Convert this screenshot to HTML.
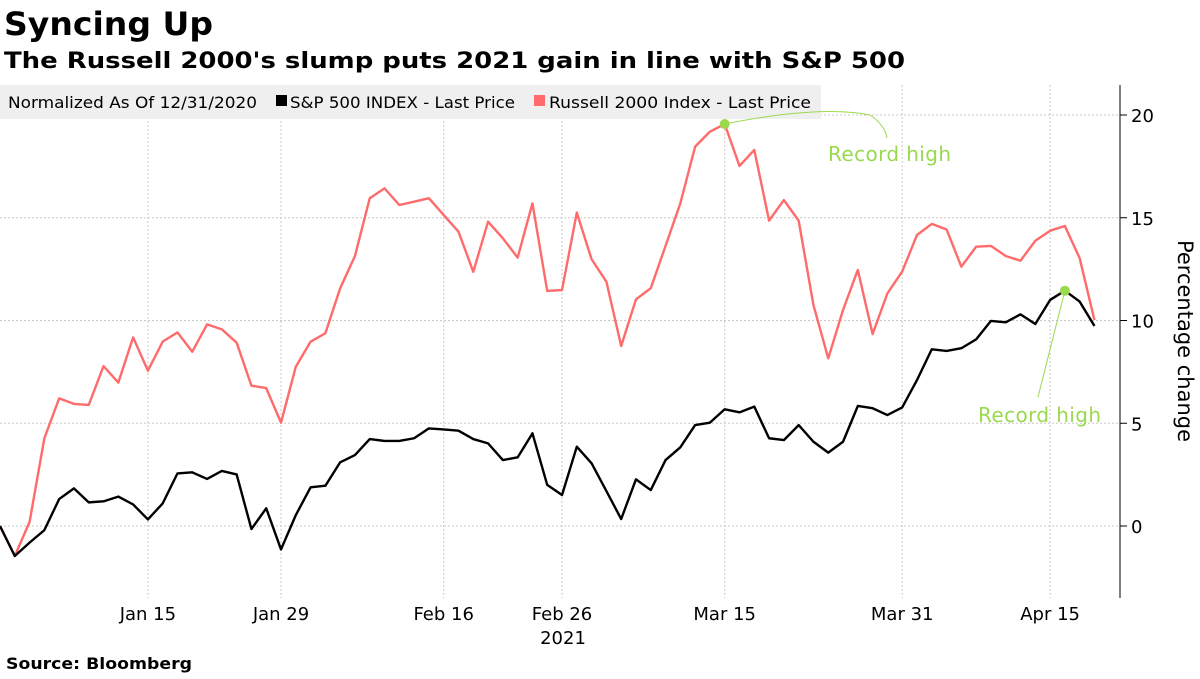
<!DOCTYPE html>
<html><head><meta charset="utf-8"><style>
body{margin:0;background:#fff;width:1200px;height:675px;overflow:hidden;font-family:"DejaVu Sans","Liberation Sans",sans-serif;}
svg text{font-family:"DejaVu Sans","Liberation Sans",sans-serif;}
</style></head><body>
<svg width="1200" height="675">
<text x="4" y="35" font-size="32" font-weight="bold" fill="#000" textLength="209" lengthAdjust="spacingAndGlyphs">Syncing Up</text>
<text x="4" y="68" font-size="22" font-weight="bold" fill="#000" textLength="901" lengthAdjust="spacingAndGlyphs">The Russell 2000's slump puts 2021 gain in line with S&amp;P 500</text>
<g id="grid"></g>
<rect x="0" y="85" width="821" height="34" fill="#efefef"/>
<text x="8" y="108" font-size="16" fill="#000" textLength="249" lengthAdjust="spacingAndGlyphs">Normalized As Of 12/31/2020</text>
<rect x="276" y="95" width="11" height="11" fill="#000"/>
<text x="290" y="108" font-size="16" fill="#000" textLength="225" lengthAdjust="spacingAndGlyphs">S&amp;P 500 INDEX - Last Price</text>
<rect x="534" y="95" width="11" height="11" fill="#ff6b6b"/>
<text x="549" y="108" font-size="16" fill="#000" textLength="262" lengthAdjust="spacingAndGlyphs">Russell 2000 Index - Last Price</text>
<g id="series"></g>
<line x1="1120" y1="85" x2="1120" y2="598" stroke="#000" stroke-width="1"/>
<g id="yaxis"></g>
<text transform="translate(1178,341) rotate(90)" text-anchor="middle" font-size="21" fill="#000">Percentage change</text>
<g id="xaxis"></g>
<text x="563" y="644" text-anchor="middle" font-size="18" fill="#000">2021</text>
<text x="6" y="669" font-size="16" font-weight="bold" fill="#000" textLength="186" lengthAdjust="spacingAndGlyphs">Source: Bloomberg</text>
<g id="annot"></g>
</svg>
<script>
const russell=[0,-1.46,0.2,4.27,6.21,5.94,5.89,7.78,6.98,9.18,7.56,8.97,9.42,8.48,9.81,9.57,8.92,6.83,6.71,5.03,7.75,8.97,9.38,11.57,13.14,15.95,16.43,15.62,15.78,15.95,15.13,14.32,12.37,14.81,14.0,13.06,15.7,11.44,11.48,15.25,12.98,11.89,8.76,11.03,11.57,13.63,15.7,18.46,19.19,19.56,17.52,18.3,14.86,15.86,14.86,10.75,8.16,10.51,12.46,9.34,11.32,12.38,14.16,14.7,14.43,12.62,13.59,13.63,13.14,12.91,13.88,14.37,14.6,13.03,10.02];
const sp500=[0,-1.46,-0.81,-0.2,1.31,1.83,1.15,1.2,1.43,1.05,0.32,1.1,2.56,2.61,2.29,2.68,2.51,-0.15,0.86,-1.14,0.53,1.88,1.96,3.1,3.45,4.23,4.14,4.14,4.27,4.75,4.7,4.64,4.23,4.02,3.21,3.34,4.51,2.0,1.51,3.86,3.05,1.7,0.34,2.27,1.75,3.21,3.83,4.91,5.03,5.68,5.53,5.81,4.27,4.18,4.91,4.1,3.57,4.1,5.84,5.73,5.4,5.77,7.1,8.6,8.52,8.65,9.08,9.98,9.91,10.3,9.83,11.0,11.45,10.92,9.73];
const xTickLabels=["Jan 15","Jan 29","Feb 16","Feb 26","Mar 15","Mar 31","Apr 15"];
const xTickIndex=[10,19,30,38,49,61,71];
const yTicks=[0,5,10,15,20];
const ns="http://www.w3.org/2000/svg";
const X=i=>i*14.79;
const Y=v=>526-20.55*v;
function mk(t,a,p){const e=document.createElementNS(ns,t);for(const k in a)e.setAttribute(k,a[k]);p.appendChild(e);return e;}
const grid=document.getElementById('grid'),ya=document.getElementById('yaxis'),xa=document.getElementById('xaxis'),se=document.getElementById('series'),an=document.getElementById('annot');
yTicks.forEach(v=>{
 const g=mk('line',{x1:0,x2:1120,y1:Y(v),y2:Y(v),stroke:'#c8c8c8','stroke-dasharray':'2,2'},grid);
 
 
 const tk=mk('line',{x1:1120,x2:1127,y1:Y(v),y2:Y(v),stroke:'#000'},ya);
 
 
 const t=mk('text',{x:1131,y:Y(v)+7,'font-size':18,fill:'#000'},ya);t.textContent=v;
 
 
});
xTickIndex.forEach((ix,k)=>{
 const g=mk('line',{x1:X(ix),x2:X(ix),y1:85,y2:598,stroke:'#c8c8c8','stroke-dasharray':'2,2'},grid);
 
 
 const t=mk('text',{x:X(ix),y:620,'text-anchor':'middle','font-size':18,fill:'#000'},xa);t.textContent=xTickLabels[k];
 
 
});
function line(d,c,name){
 const p=mk('polyline',{points:d.map((v,i)=>X(i)+','+Y(v)).join(' '),fill:'none',stroke:c,'stroke-width':2.4,'stroke-linejoin':'round'},se);
 
 
}
line(russell,'#ff6b6b','russell-2000-line');
line(sp500,'#000','sp500-line');
const ri=russell.indexOf(Math.max(...russell)), si=sp500.indexOf(Math.max(...sp500));
const c1=mk('path',{d:`M${X(ri)},${Y(russell[ri])} Q820,105 870,115 Q885,125 887,138`,fill:'none',stroke:'#9ad94e','stroke-width':1},an);


const d1=mk('circle',{cx:X(ri),cy:Y(russell[ri]),r:5,fill:'#9ad94e'},an);


const t1=mk('text',{x:828,y:161,'font-size':20,fill:'#9ad94e',textLength:123},an);t1.textContent='Record high';


const c2=mk('line',{x1:X(si),y1:Y(sp500[si]),x2:1038,y2:397,stroke:'#9ad94e','stroke-width':1},an);


const d2=mk('circle',{cx:X(si),cy:Y(sp500[si]),r:5,fill:'#9ad94e'},an);


const t2=mk('text',{x:978,y:422,'font-size':20,fill:'#9ad94e',textLength:123},an);t2.textContent='Record high';


</script>
</body></html>
